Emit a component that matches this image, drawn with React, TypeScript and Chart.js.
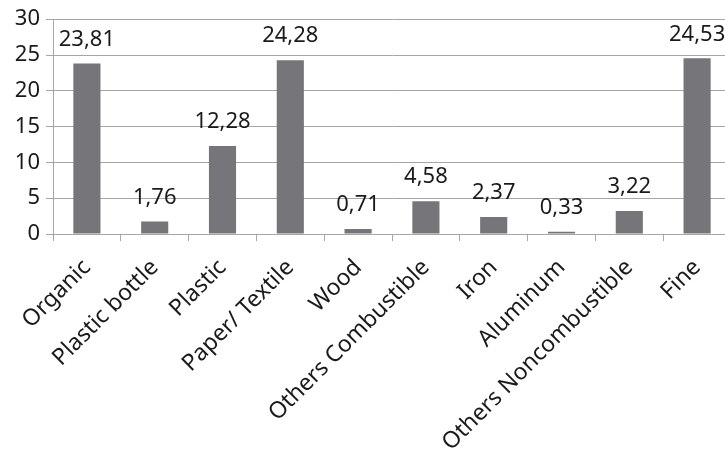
import React, { useEffect, useRef } from "react";
import { Chart, registerables } from "chart.js";

Chart.register(...registerables);

const categories = [
  "Organic",
  "Plastic bottle",
  "Plastic",
  "Paper/ Textile",
  "Wood",
  "Others Combustible",
  "Iron",
  "Aluminum",
  "Others Noncombustible",
  "Fine",
];
const values = [23.81, 1.76, 12.28, 24.28, 0.71, 4.58, 2.37, 0.33, 3.22, 24.53];
const yTicks = [0, 5, 10, 15, 20, 25, 30];

const FONT = "'Noto Sans', sans-serif";

const valueLabels = {
  id: "valueLabels",
  afterDatasetsDraw(chart: any) {
    const ctx = chart.ctx;
    const meta = chart.getDatasetMeta(0);
    ctx.save();
    ctx.font = `22px ${FONT}`;
    ctx.fillStyle = "#1a1a1a";
    ctx.textAlign = "center";
    ctx.textBaseline = "bottom";
    meta.data.forEach((bar: any, i: number) => {
      const v = values[i];
      ctx.fillText(v.toFixed(2).replace(".", ","), bar.x, bar.y - 13);
    });
    ctx.restore();
  },
};

export default function App() {
  const ref = useRef<HTMLCanvasElement>(null);
  useEffect(() => {
    document.body.style.margin = "0";
    const chart = new Chart(ref.current!, {
      type: "bar",
      data: {
        labels: categories,
        datasets: [
          {
            data: values,
            backgroundColor: "#75757a",
            barPercentage: 0.4,
            categoryPercentage: 1,
          },
        ],
      },
      options: {
        animation: false,
        responsive: false,
        layout: { padding: { top: 18, right: 0, left: 0, bottom: 0 } },
        plugins: { legend: { display: false }, tooltip: { enabled: false } },
        scales: {
          x: {
            grid: {
              display: true,
              drawOnChartArea: false,
              color: "#a6a6a6",
              tickLength: 7,
              offset: true,
            },
            border: { color: "#a6a6a6" },
            ticks: {
              font: { family: FONT, size: 23 },
              color: "#1a1a1a",
              minRotation: 45,
              maxRotation: 45,
              autoSkip: false,
              padding: 13,
            },
            afterFit: (scale: any) => {
              scale.height = 215;
            },
          },
          y: {
            min: 0,
            max: 30,
            afterBuildTicks: (scale: any) => {
              scale.ticks = yTicks.map((v) => ({ value: v }));
            },
            grid: { color: "#a6a6a6", tickLength: 7 },
            border: { color: "#a6a6a6" },
            ticks: {
              font: { family: FONT, size: 22 },
              color: "#1a1a1a",
              padding: 6,
            },
            afterFit: (scale: any) => {
              scale.width = 53;
            },
          },
        },
      },
      plugins: [valueLabels],
    });
    return () => chart.destroy();
  }, []);
  return (
    <div style={{ width: 725, height: 449, overflow: "hidden" }}>
      <canvas ref={ref} width={731} height={449} style={{ display: "block" }} />
    </div>
  );
}
